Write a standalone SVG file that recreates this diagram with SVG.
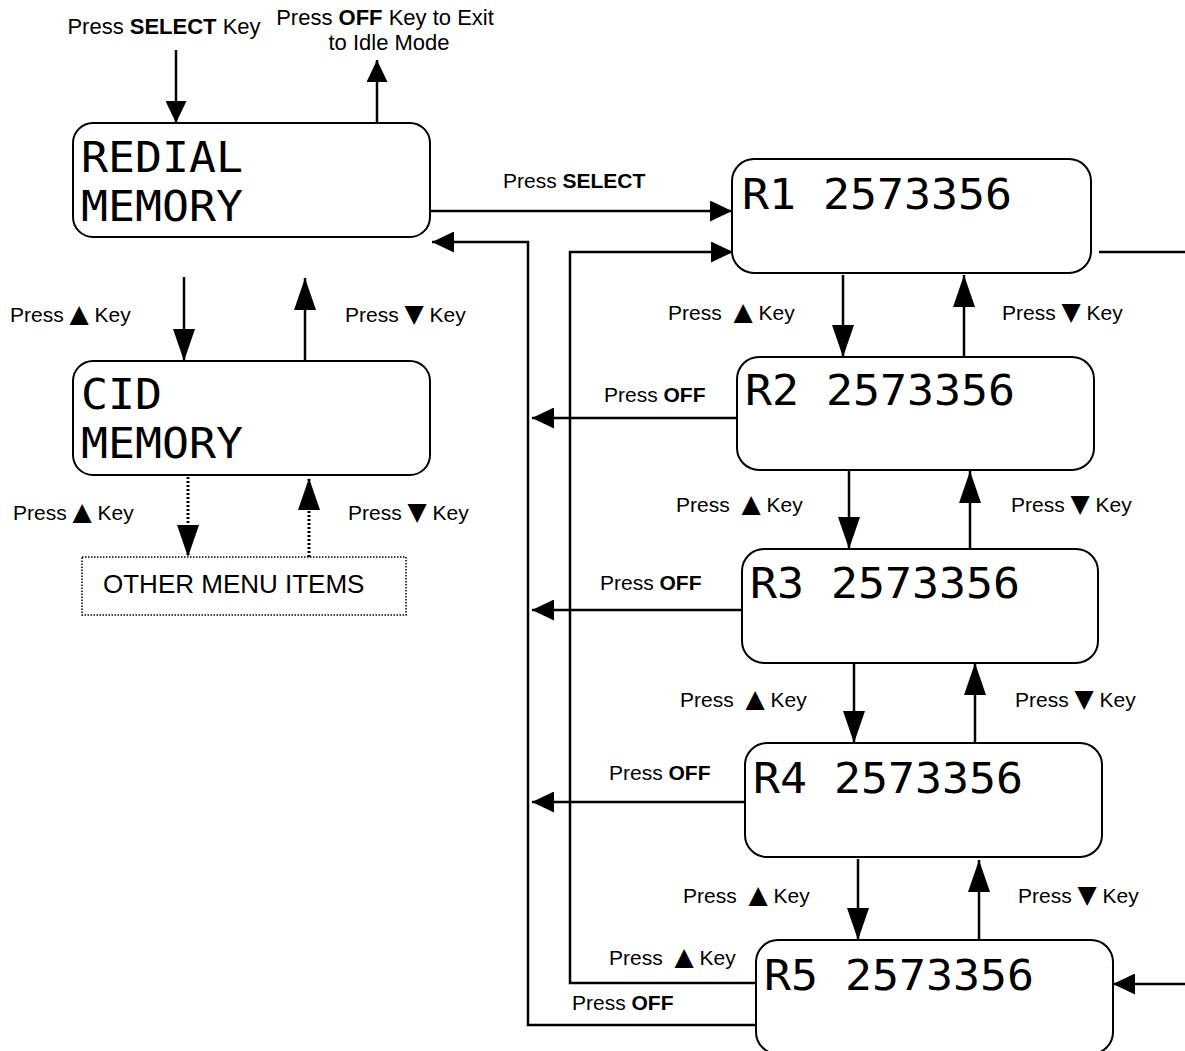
<svg xmlns="http://www.w3.org/2000/svg" width="1185" height="1051" viewBox="0 0 1185 1051">
<style>
.box{fill:#fff;stroke:#000;stroke-width:2}
.dbox{fill:#fff;stroke:#000;stroke-width:1.5;stroke-dasharray:1.5 1.5}
.lcd{font-family:"DejaVu Sans Mono","Liberation Mono",monospace;font-size:43px;fill:#000}
.lbl{font-family:"Liberation Sans",Arial,sans-serif;font-size:21px;fill:#000}
.top{font-size:22px}
.b{font-weight:bold}
.tri{font-family:"DejaVu Sans",sans-serif;font-size:25px}
.ln{fill:none;stroke:#000;stroke-width:2.5}
.big{marker-end:url(#big)}
.sm{marker-end:url(#sm)}
.dot{stroke-width:3;stroke-dasharray:2 2}
</style>
<defs>
<marker id="big" viewBox="0 0 32 22" refX="32" refY="11" markerWidth="32" markerHeight="22" markerUnits="userSpaceOnUse" orient="auto"><path d="M0,0 L32,11 L0,22 z" fill="#000"/></marker>
<marker id="sm" viewBox="0 0 22 21" refX="22" refY="10.5" markerWidth="22" markerHeight="21" markerUnits="userSpaceOnUse" orient="auto"><path d="M0,0 L22,10.5 L0,21 z" fill="#000"/></marker>
</defs>
<rect width="1185" height="1051" fill="#fff"/>

<g id="connectors">
<line class="ln sm" x1="176" y1="50" x2="176" y2="123"/>
<line class="ln sm" x1="377" y1="128" x2="377" y2="60"/>
<line class="ln sm" x1="431" y1="211" x2="732" y2="211"/>
<line class="ln big" x1="184" y1="277" x2="184" y2="361"/>
<line class="ln big" x1="305" y1="361" x2="305" y2="278"/>
<line class="ln dot big" x1="188" y1="477" x2="188" y2="557"/>
<line class="ln dot big" x1="309" y1="557" x2="309" y2="478"/>
<line class="ln big" x1="843" y1="275" x2="843" y2="357"/>
<line class="ln big" x1="964" y1="357" x2="964" y2="275"/>
<line class="ln big" x1="849" y1="471" x2="849" y2="549"/>
<line class="ln big" x1="970" y1="549" x2="970" y2="471"/>
<line class="ln big" x1="854" y1="664" x2="854" y2="743"/>
<line class="ln big" x1="975" y1="743" x2="975" y2="663"/>
<line class="ln big" x1="858" y1="859" x2="858" y2="940"/>
<line class="ln big" x1="979" y1="940" x2="979" y2="860"/>
<line class="ln sm" x1="737" y1="418" x2="532" y2="418"/>
<line class="ln sm" x1="742" y1="610" x2="532" y2="610"/>
<line class="ln sm" x1="745" y1="802" x2="532" y2="802"/>
<polyline class="ln sm" points="757,1025 528,1025 528,242 432,242"/>
<polyline class="ln sm" points="757,983 570,983 570,252 733,252"/>
<line class="ln" x1="1099" y1="252" x2="1185" y2="252"/>
<line class="ln sm" x1="1185" y1="984" x2="1113" y2="984"/>
</g>

<g id="redial">
<rect class="box" x="73" y="123" width="357" height="114" rx="20"/>
<text class="lcd" x="81" y="172" textLength="162" lengthAdjust="spacingAndGlyphs">REDIAL</text>
<text class="lcd" x="81" y="221" textLength="162" lengthAdjust="spacingAndGlyphs">MEMORY</text>
</g>
<g id="cid">
<rect class="box" x="73" y="361" width="357" height="114" rx="20"/>
<text class="lcd" x="81" y="409" textLength="81" lengthAdjust="spacingAndGlyphs">CID</text>
<text class="lcd" x="81" y="458" textLength="162" lengthAdjust="spacingAndGlyphs">MEMORY</text>
</g>
<g id="other">
<rect class="dbox" x="82" y="557" width="324" height="58"/>
<text class="lbl" x="103" y="593" style="font-size:26px">OTHER MENU ITEMS</text>
</g>
<g id="r1">
<rect class="box" x="732" y="159" width="359" height="114" rx="22"/>
<text class="lcd" x="742" y="209" textLength="270" lengthAdjust="spacingAndGlyphs">R1 2573356</text>
</g>
<g id="r2">
<rect class="box" x="737" y="357" width="357" height="113" rx="22"/>
<text class="lcd" x="745" y="405" textLength="270" lengthAdjust="spacingAndGlyphs">R2 2573356</text>
</g>
<g id="r3">
<rect class="box" x="742" y="549" width="356" height="114" rx="22"/>
<text class="lcd" x="750" y="598" textLength="270" lengthAdjust="spacingAndGlyphs">R3 2573356</text>
</g>
<g id="r4">
<rect class="box" x="745" y="743" width="357" height="114" rx="22"/>
<text class="lcd" x="753" y="793" textLength="270" lengthAdjust="spacingAndGlyphs">R4 2573356</text>
</g>
<g id="r5">
<rect class="box" x="756" y="940" width="357" height="114" rx="22"/>
<text class="lcd" x="764" y="990" textLength="270" lengthAdjust="spacingAndGlyphs">R5 2573356</text>
</g>

<g id="labels">
<text class="lbl top" x="164" y="34" text-anchor="middle">Press <tspan class="b">SELECT</tspan> Key</text>
<text class="lbl top" x="385" y="25" text-anchor="middle">Press <tspan class="b">OFF</tspan> Key to Exit</text>
<text class="lbl top" x="389" y="50" text-anchor="middle">to Idle Mode</text>
<text class="lbl" x="503" y="188">Press <tspan class="b">SELECT</tspan></text>
<text class="lbl" x="10" y="322">Press <tspan class="tri">▲</tspan> Key</text>
<text class="lbl" x="345" y="322">Press <tspan class="tri">▼</tspan> Key</text>
<text class="lbl" x="13" y="520">Press <tspan class="tri">▲</tspan> Key</text>
<text class="lbl" x="348" y="520">Press <tspan class="tri">▼</tspan> Key</text>
<text class="lbl" x="668" y="320">Press <tspan class="tri" dx="6">▲</tspan> Key</text>
<text class="lbl" x="1002" y="320">Press <tspan class="tri">▼</tspan> Key</text>
<text class="lbl" x="676" y="512">Press <tspan class="tri" dx="6">▲</tspan> Key</text>
<text class="lbl" x="1011" y="512">Press <tspan class="tri">▼</tspan> Key</text>
<text class="lbl" x="680" y="707">Press <tspan class="tri" dx="6">▲</tspan> Key</text>
<text class="lbl" x="1015" y="707">Press <tspan class="tri">▼</tspan> Key</text>
<text class="lbl" x="683" y="903">Press <tspan class="tri" dx="6">▲</tspan> Key</text>
<text class="lbl" x="1018" y="903">Press <tspan class="tri">▼</tspan> Key</text>
<text class="lbl" x="609" y="965">Press <tspan class="tri" dx="6">▲</tspan> Key</text>
<text class="lbl" x="604" y="402">Press <tspan class="b">OFF</tspan></text>
<text class="lbl" x="600" y="590">Press <tspan class="b">OFF</tspan></text>
<text class="lbl" x="609" y="780">Press <tspan class="b">OFF</tspan></text>
<text class="lbl" x="572" y="1010">Press <tspan class="b">OFF</tspan></text>
</g>
</svg>
